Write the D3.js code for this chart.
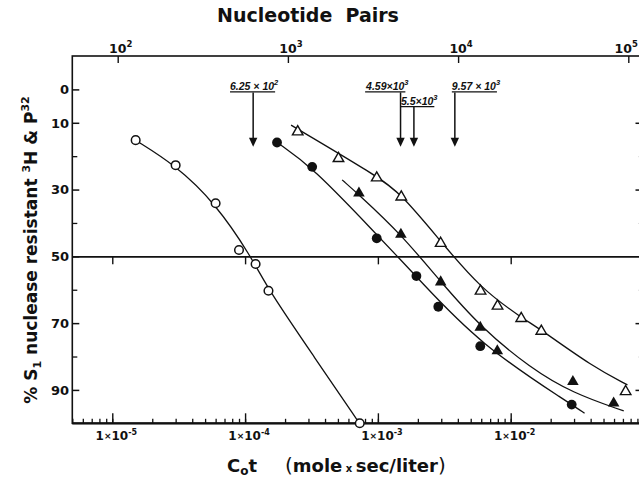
<!DOCTYPE html>
<html><head><meta charset="utf-8">
<script src="https://cdn.jsdelivr.net/npm/d3@7"></script>
<style>
body{margin:0;background:#fff}
svg{display:block;background:#fff}
text{font-family:"DejaVu Sans","Liberation Sans",sans-serif;font-weight:bold;fill:#111}
</style>
</head><body><svg id="c" width="639" height="483"></svg>
<script>
// ---------- data ----------
const openCircleCot   = [1.5e-5, 3.0e-5, 6.0e-5, 9.0e-5, 1.2e-4, 1.5e-4, 7.3e-4];
const openCircleVal   = [15.2, 22.7, 34.1, 48.1, 52.3, 60.3, 100];
const filledCircleCot = [1.74e-4, 3.2e-4, 9.8e-4, 1.95e-3, 2.85e-3, 5.9e-3, 2.88e-2];
const filledCircleVal = [15.9, 23.2, 44.6, 55.9, 65.1, 76.9, 94.4];
const filledTriCot    = [7.2e-4, 1.49e-3, 2.97e-3, 5.9e-3, 7.93e-3, 2.94e-2, 5.96e-2];
const filledTriVal    = [31.1, 43.4, 57.7, 71.3, 78.3, 87.5, 94.0];
const openTriCot      = [2.49e-4, 5.05e-4, 9.8e-4, 1.5e-3, 2.97e-3, 5.93e-3, 7.96e-3, 1.2e-2, 1.7e-2, 7.34e-2];
const openTriVal      = [12.7, 20.7, 26.5, 32.2, 46.1, 60.4, 64.9, 68.6, 72.4, 90.5];

// hand-drawn fitted curves
const openCircleFitCot   = [1.49e-5, 2.99e-5, 5.97e-5, 1.11e-4, 1.51e-4, 3.3e-4, 7.26e-4];
const openCircleFitVal   = [15.2, 22.7, 34.1, 50.0, 60.3, 80.0, 100];
const filledCircleFitCot = [1.74e-4, 3.2e-4, 9.8e-4, 1.41e-3, 1.95e-3, 5.93e-3, 2.88e-2, 3.6e-2];
const filledCircleFitVal = [15.9, 23.2, 43.5, 50.1, 56.1, 76.6, 94.4, 97.0];
const filledTriFitCot    = [5.38e-4, 7.18e-4, 1.49e-3, 2.97e-3, 5.9e-3, 1.41e-2, 2.94e-2, 7.1e-2];
const filledTriFitVal    = [27.1, 31.5, 43.3, 57.6, 71.1, 83.5, 91.0, 96.3];
const openTriFitCot      = [2.22e-4, 9.8e-4, 1.5e-3, 2.97e-3, 5.93e-3, 1.2e-2, 1.7e-2, 4.13e-2, 7.57e-2];
const openTriFitVal      = [10.7, 25.9, 31.3, 45.5, 59.6, 68.3, 72.0, 83.0, 88.5];

// axes
const cotMajorTicks   = [1e-5, 1e-4, 1e-3, 1e-2];
const cotMajorExp     = ["-5", "-4", "-3", "-2"];
const pairTicks       = [1e2, 1e3, 1e4, 1e5];
const pairExp         = ["2", "3", "4", "5"];
const yLabelTicks     = [0, 10, 30, 50, 70, 90];
const yMinorTicks     = [20, 40, 60, 80];

// arrow annotations (nucleotide pairs)
const arrowPairs    = [625, 4590, 5500, 9570];
const arrowMantissa = ["6.25 × 10", "4.59×10", "5.5×10", "9.57 × 10"];
const arrowExp      = ["2", "3", "3", "3"];
const arrowTopVal   = [0.9, 0.9, 5.3, 0.9];
const arrowTipVal   = 17.2;

// ---------- layout ----------
const labelAnchor = ["middle", "end", "start", "start"];
const labelDx     = [1, 8, -13, -3];

const svg = d3.select("#c");
const ink = "#111";
const W = +svg.attr("width");
const x = d3.scaleLog().domain([5e-6, 0.1]).range([72.3, 643.5]);
const xTop = d3.scaleLog().domain([1e2, 1e5]).range([117.7, 628.3]);
const y = d3.scaleLinear().domain([-10, 100]).range([56, 423.3]);
const [x0, x1] = x.range(), [y0, y1] = y.range();

// frame
svg.append("rect").attr("x", x0).attr("y", y0).attr("width", x1 - x0).attr("height", y1 - y0)
  .attr("fill", "none").attr("stroke", ink).attr("stroke-width", 1.6);
svg.append("line").attr("x1", x0).attr("x2", x1).attr("y1", y1).attr("y2", y1)
  .attr("stroke", ink).attr("stroke-width", 2.2);

function styleAxis(g, w) {
  g.select(".domain").remove();
  g.selectAll(".tick text").remove();
  g.selectAll(".tick line").attr("stroke", ink).attr("stroke-width", w || 1.4);
}

// bottom axis: minor + major inward ticks
svg.append("g").attr("transform", `translate(0,${y1})`)
  .call(d3.axisTop(x).tickSize(4.5).tickFormat(""))
  .call(g => styleAxis(g, 1.3));
svg.append("g").attr("transform", `translate(0,${y1})`)
  .call(d3.axisTop(x).tickValues(cotMajorTicks).tickSize(10).tickFormat(""))
  .call(g => styleAxis(g, 1.4));

const botLab = svg.append("g").selectAll("text").data(cotMajorTicks).join("text")
  .attr("x", d => x(d) + 4).attr("y", 440).attr("text-anchor", "middle")
  .attr("font-size", 12);
botLab.append("tspan").text("1");
botLab.append("tspan").attr("font-size", 9).attr("dy", -1).text("×");
botLab.append("tspan").attr("dy", 1).text("10");
botLab.append("tspan").attr("font-size", 8).attr("dy", -5).text((d, i) => cotMajorExp[i]);

// top axis
svg.append("g").attr("transform", `translate(0,${y0})`)
  .call(d3.axisBottom(xTop).tickValues(pairTicks).tickSize(7).tickFormat(""))
  .call(g => styleAxis(g, 1.4));
const topLab = svg.append("g").selectAll("text").data(pairTicks).join("text")
  .attr("x", d => xTop(d) + 3).attr("y", 52.5).attr("text-anchor", "middle")
  .attr("font-size", 12.5);
topLab.append("tspan").text("10");
topLab.append("tspan").attr("font-size", 8.5).attr("dy", -6).text((d, i) => pairExp[i]);
// keep the last label inside the window
topLab.each(function () {
  const bb = this.getBBox();
  if (bb.x + bb.width > W - 1) d3.select(this).attr("x", +d3.select(this).attr("x") - (bb.x + bb.width - W + 1));
});

svg.append("text").attr("x", 308).attr("y", 21.5).attr("text-anchor", "middle")
  .attr("font-size", 19).style("font-weight", 900).text("Nucleotide  Pairs").attr("xml:space", "preserve");

// left axis
svg.append("g").attr("transform", `translate(${x0},0)`)
  .call(d3.axisRight(y).tickValues(yLabelTicks).tickSize(7).tickFormat(""))
  .call(g => styleAxis(g, 1.5));
svg.append("g").attr("transform", `translate(${x0},0)`)
  .call(d3.axisRight(y).tickValues(yMinorTicks).tickSize(5).tickFormat(""))
  .call(g => styleAxis(g, 1.3));
svg.append("g").selectAll("text").data(yLabelTicks).join("text")
  .attr("x", 69).attr("y", d => y(d) + 4.8).attr("text-anchor", "end")
  .attr("font-size", 13).text(d => d);

// right axis (inward)
svg.append("g").attr("transform", `translate(${x1},0)`)
  .call(d3.axisLeft(y).tickValues([10, 30, 70, 90]).tickSize(8).tickFormat(""))
  .call(g => styleAxis(g, 1.5));
svg.append("g").attr("transform", `translate(${x1},0)`)
  .call(d3.axisLeft(y).tickValues(yMinorTicks).tickSize(5).tickFormat(""))
  .call(g => { styleAxis(g, 1); g.selectAll("line").attr("stroke", "#bbb"); });

// y title
const yt = svg.append("text")
  .attr("transform", `translate(37,250) rotate(-90)`)
  .attr("text-anchor", "middle").attr("font-size", 17);
yt.append("tspan").text("% S");
yt.append("tspan").attr("font-size", 11).attr("dy", 4).text("1");
yt.append("tspan").attr("dy", -4).text(" nuclease resistant ");
yt.append("tspan").attr("font-size", 11).attr("dy", -7).text("3");
yt.append("tspan").attr("dy", 7).text("H & P");
yt.append("tspan").attr("font-size", 11).attr("dy", -8).text("32");

// x title
const xt = svg.append("text").attr("x", 227).attr("y", 472).attr("font-size", 18);
xt.append("tspan").text("C");
xt.append("tspan").attr("font-size", 12).attr("dy", 3).text("o");
xt.append("tspan").attr("dy", -3).text("t");
const xt2 = svg.append("text").attr("x", 285).attr("y", 472).attr("font-size", 18);
xt2.append("tspan").attr("font-weight", "normal").attr("font-size", 20).text("(");
xt2.append("tspan").text("mole");
xt2.append("tspan").attr("font-size", 10).text(" x ");
xt2.append("tspan").text("sec/liter");
xt2.append("tspan").attr("font-weight", "normal").attr("font-size", 20).text(")");

// 50% reference line with decade ticks hanging below
svg.append("g").attr("transform", `translate(0,${y(50)})`)
  .call(d3.axisBottom(x).tickValues(cotMajorTicks).tickSize(8).tickSizeOuter(0).tickFormat(""))
  .call(g => {
    g.select(".domain").attr("stroke", ink).attr("stroke-width", 1.7);
    g.selectAll(".tick text").remove();
    g.selectAll(".tick line").attr("stroke", ink).attr("stroke-width", 1.4);
  });

// fitted curves
const line = d3.line().x(d => x(d[0])).y(d => y(d[1])).curve(d3.curveBasis);
const fits = [
  [openCircleFitCot, openCircleFitVal],
  [filledCircleFitCot, filledCircleFitVal],
  [filledTriFitCot, filledTriFitVal],
  [openTriFitCot, openTriFitVal]
];
svg.append("g").selectAll("path").data(fits).join("path")
  .attr("d", f => line(f[0].map((c, i) => [c, f[1][i]])))
  .attr("fill", "none").attr("stroke", ink).attr("stroke-width", 1.3);

// markers
const zip = (a, b) => a.map((c, i) => [c, b[i]]);
const gm = svg.append("g");
gm.selectAll("circle.o").data(zip(openCircleCot, openCircleVal)).join("circle")
  .attr("cx", d => x(d[0])).attr("cy", d => y(d[1])).attr("r", 4.3)
  .attr("fill", "#fff").attr("stroke", ink).attr("stroke-width", 1.5);
gm.selectAll("circle.f").data(zip(filledCircleCot, filledCircleVal)).join("circle")
  .attr("cx", d => x(d[0])).attr("cy", d => y(d[1])).attr("r", 4.9)
  .attr("fill", ink);
const tri = d3.symbol().type(d3.symbolTriangle);
gm.selectAll("path.ft").data(zip(filledTriCot, filledTriVal)).join("path")
  .attr("transform", d => `translate(${x(d[0])},${y(d[1])})`)
  .attr("d", tri.size(58)()).attr("fill", ink);
gm.selectAll("path.ot").data(zip(openTriCot, openTriVal)).join("path")
  .attr("transform", d => `translate(${x(d[0])},${y(d[1])})`)
  .attr("d", tri.size(48)()).attr("fill", "#fff").attr("stroke", ink).attr("stroke-width", 1.4);

// arrows
const ga = svg.append("g");
arrowPairs.forEach((p, i) => {
  const ax = xTop(p);
  const yTop = y(arrowTopVal[i]), yTip = y(arrowTipVal);
  ga.append("line").attr("x1", ax).attr("x2", ax).attr("y1", yTop).attr("y2", yTip - 6)
    .attr("stroke", ink).attr("stroke-width", 1.5);
  ga.append("path").attr("d", `M${ax - 4.2},${yTip - 9}L${ax + 4.2},${yTip - 9}L${ax},${yTip}Z`).attr("fill", ink);
  const t = ga.append("text").attr("x", ax + labelDx[i]).attr("y", yTop - 2.5)
    .attr("text-anchor", labelAnchor[i]).attr("font-size", 10.5)
    .style("font-family", "'Liberation Sans', Arial, sans-serif").style("font-style", "italic");
  t.append("tspan").text(arrowMantissa[i]);
  t.append("tspan").attr("font-size", 7.5).attr("dy", -5).text(arrowExp[i]);
  const bb = t.node().getBBox();
  ga.append("line").attr("x1", bb.x).attr("x2", bb.x + bb.width - 4).attr("y1", yTop - 0.5).attr("y2", yTop - 0.5)
    .attr("stroke", ink).attr("stroke-width", 1.2);
});
</script>
</body></html>
